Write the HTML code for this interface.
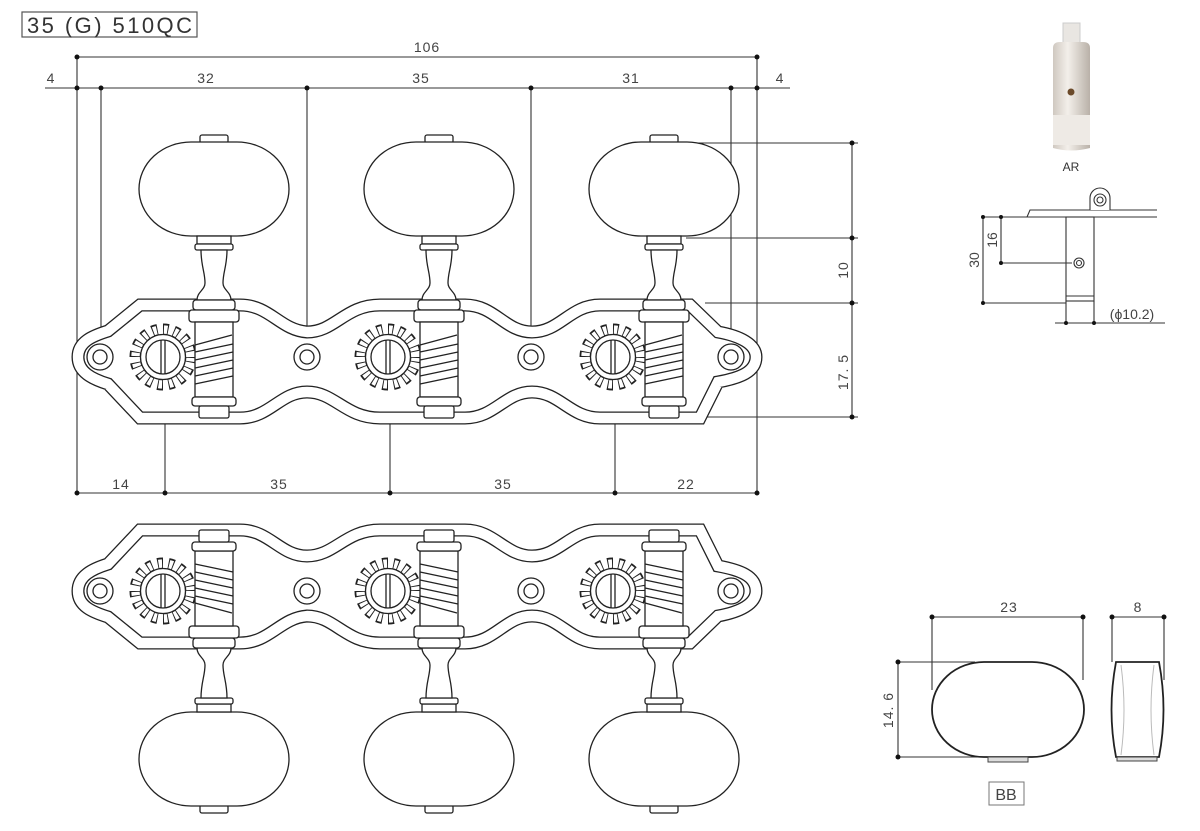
<!DOCTYPE html>
<html><head><meta charset="utf-8"><style>
html,body{margin:0;padding:0;background:#fff;}
svg{display:block;font-family:"Liberation Sans",sans-serif;}
</style></head><body>
<svg width="1200" height="831" viewBox="0 0 1200 831" xmlns="http://www.w3.org/2000/svg">
<defs>
<path id="plate" d="M78 357 C78 342 92 336 108 331 L140 305 L240 305 C270 305 280 330 307 332 C335 332 345 305 380 305 L465 305 C495 305 505 332 532 332 C560 332 570 305 600 305 L690 305 L718 332 C740 336 756 344 756 357 C756 372 740 378 718 382 L700 418 L600 418 C570 418 560 392 532 392 C505 392 495 418 465 418 L380 418 C345 418 335 392 307 392 C280 392 270 418 240 418 L140 418 L108 384 C92 379 78 372 78 357 Z"/>
<g id="tuner" fill="#fff" stroke="#222" stroke-width="1.3">
  <!-- gear -->
  <circle cx="-51" cy="357" r="28" pathLength="160" fill="none" stroke="#222" stroke-width="11" stroke-dasharray="5 5"/>
  <circle cx="-51" cy="357" r="27.5" pathLength="160" fill="none" stroke="#fff" stroke-width="8.4" stroke-dasharray="3.2 6.8" stroke-dashoffset="-0.9"/>
  <circle cx="-51" cy="357" r="22.5" fill="#fff"/>
  <circle cx="-51" cy="357" r="17"/>
  <line x1="-53" y1="340" x2="-53" y2="374"/><line x1="-49" y1="340" x2="-49" y2="374"/>
  <!-- cap & knob -->
  <rect x="-14" y="135" width="28" height="8" rx="2"/>
  <rect x="-75" y="142" width="150" height="94" rx="52" ry="47"/>
  <rect x="-17" y="236" width="34" height="8"/>
  <rect x="-19" y="244" width="38" height="6" rx="2"/>
  <path d="M-13 250 C-13 266 -9 272 -9 283 C-9 290 -17 292 -17 300 L17 300 C17 292 9 290 9 283 C9 272 13 266 13 250 Z"/>
  <rect x="-21" y="300" width="42" height="10" rx="3"/>
  <rect x="-25" y="310" width="50" height="12" rx="3"/>
  <rect x="-19" y="322" width="38" height="75"/>
  <path d="M-19 345 L18 335 M-19 352 L19 344 M-19 360 L19 352 M-19 368 L19 360 M-19 376 L19 368 M-19 384 L19 376" fill="none"/>
  <rect x="-22" y="397" width="44" height="9" rx="3"/>
  <rect x="-15" y="406" width="30" height="12" rx="2"/>
</g>
<g id="unit">
  <use href="#plate" fill="#fff" stroke="#222" stroke-width="13"/>
  <use href="#plate" fill="none" stroke="#fff" stroke-width="10.4"/>
  <g fill="#fff" stroke="#222" stroke-width="1.3">
    <circle cx="100" cy="357" r="13"/><circle cx="100" cy="357" r="7"/>
    <circle cx="307" cy="357" r="13"/><circle cx="307" cy="357" r="7"/>
    <circle cx="531" cy="357" r="13"/><circle cx="531" cy="357" r="7"/>
    <circle cx="731" cy="357" r="13"/><circle cx="731" cy="357" r="7"/>
  </g>
  <use href="#tuner" x="214"/>
  <use href="#tuner" x="439"/>
  <use href="#tuner" x="664"/>
</g>
</defs>

<!-- title -->
<rect x="22" y="12" width="175" height="25" fill="none" stroke="#555" stroke-width="1.2"/>
<text x="27" y="33" font-size="22" fill="#333" textLength="165" lengthAdjust="spacing">35 (G) 510QC</text>

<!-- top dims -->
<g stroke="#333" stroke-width="1.1" fill="none">
  <line x1="75" y1="57" x2="757" y2="57"/>
  <line x1="45" y1="88" x2="790" y2="88"/>
  <line x1="77" y1="57" x2="77" y2="493"/>
  <line x1="757" y1="57" x2="757" y2="493"/>
  <line x1="101" y1="88" x2="101" y2="350"/>
  <line x1="307" y1="88" x2="307" y2="350"/>
  <line x1="531" y1="88" x2="531" y2="350"/>
  <line x1="731" y1="88" x2="731" y2="350"/>
  <line x1="75" y1="493" x2="757" y2="493"/>
  <line x1="165" y1="395" x2="165" y2="493"/>
  <line x1="390" y1="395" x2="390" y2="493"/>
  <line x1="615" y1="395" x2="615" y2="493"/>
  <line x1="852" y1="143" x2="852" y2="417"/>
  <line x1="680" y1="143" x2="858" y2="143"/>
  <line x1="686" y1="238" x2="858" y2="238"/>
  <line x1="705" y1="303" x2="858" y2="303"/>
  <line x1="705" y1="417" x2="858" y2="417"/>
</g>
<g fill="#111">
  <circle cx="77" cy="57" r="2.5"/><circle cx="757" cy="57" r="2.5"/>
  <circle cx="77" cy="88" r="2.5"/><circle cx="101" cy="88" r="2.5"/><circle cx="307" cy="88" r="2.5"/>
  <circle cx="531" cy="88" r="2.5"/><circle cx="731" cy="88" r="2.5"/><circle cx="757" cy="88" r="2.5"/>
  <circle cx="77" cy="493" r="2.5"/><circle cx="165" cy="493" r="2.5"/><circle cx="390" cy="493" r="2.5"/>
  <circle cx="615" cy="493" r="2.5"/><circle cx="757" cy="493" r="2.5"/>
  <circle cx="852" cy="143" r="2.5"/><circle cx="852" cy="238" r="2.5"/><circle cx="852" cy="303" r="2.5"/><circle cx="852" cy="417" r="2.5"/>
</g>
<g font-size="14" fill="#444" text-anchor="middle" letter-spacing="1">
  <text x="427" y="52">106</text>
  <text x="51" y="83">4</text>
  <text x="206" y="83">32</text>
  <text x="421" y="83">35</text>
  <text x="631" y="83">31</text>
  <text x="780" y="83">4</text>
  <text x="121" y="489">14</text>
  <text x="279" y="489">35</text>
  <text x="503" y="489">35</text>
  <text x="686" y="489">22</text>
  <text transform="translate(848,270) rotate(-90)">10</text>
  <text transform="translate(848,372) rotate(-90)">17. 5</text>
</g>

<!-- top unit -->
<use href="#unit"/>
<!-- bottom unit mirrored -->
<use href="#unit" transform="translate(0,948) scale(1,-1)"/>

<!-- AR photo -->
<defs>
<linearGradient id="cyl" x1="0" x2="1">
  <stop offset="0" stop-color="#cfc8c0"/><stop offset="0.4" stop-color="#f3efea"/><stop offset="1" stop-color="#b9b1a8"/>
</linearGradient>
</defs>
<rect x="1063" y="23" width="17" height="22" fill="#e9e6e2" stroke="#ccc"/>
<path d="M1053 48 Q1053 42 1060 42 L1083 42 Q1090 42 1090 48 L1090 148 Q1071 153 1053 148 Z" fill="url(#cyl)"/>
<rect x="1053" y="115" width="37" height="30" fill="#eeeae5"/>
<circle cx="1071" cy="92" r="3.5" fill="#6b4a2a"/>
<text x="1071" y="171" font-size="12" fill="#333" text-anchor="middle">AR</text>

<!-- AR side view -->
<g stroke="#333" stroke-width="1.1" fill="#fff">
  <path d="M1027 217 L1030 210 L1157 210 M1027 217 L1157 217" fill="none"/>
  <path d="M1090 210 L1090 198 A10 10 0 0 1 1110 198 L1110 210" />
  <circle cx="1100" cy="200" r="6"/><circle cx="1100" cy="200" r="3"/>
  <rect x="1066" y="217" width="28" height="84"/>
  <line x1="1066" y1="296" x2="1094" y2="296"/>
  <circle cx="1079" cy="263" r="5"/><circle cx="1079" cy="263" r="2.5"/>
  <line x1="983" y1="217" x2="1027" y2="217"/>
  <line x1="983" y1="303" x2="1066" y2="303"/>
  <line x1="983" y1="217" x2="983" y2="303"/>
  <line x1="1001" y1="217" x2="1001" y2="263"/>
  <line x1="1001" y1="263" x2="1072" y2="263"/>
  <line x1="1055" y1="323" x2="1165" y2="323"/>
  <line x1="1066" y1="301" x2="1066" y2="323"/>
  <line x1="1094" y1="301" x2="1094" y2="323"/>
</g>
<g fill="#111">
  <circle cx="983" cy="217" r="2"/><circle cx="983" cy="303" r="2"/>
  <circle cx="1001" cy="217" r="2"/><circle cx="1001" cy="263" r="2"/>
  <circle cx="1066" cy="323" r="2"/><circle cx="1094" cy="323" r="2"/>
</g>
<g font-size="14" fill="#444" text-anchor="middle">
  <text transform="translate(979,260) rotate(-90)">30</text>
  <text transform="translate(997,240) rotate(-90)">16</text>
  <text x="1132" y="319">(ϕ10.2)</text>
</g>

<!-- BB -->
<g stroke="#333" stroke-width="1.1" fill="none">
  <line x1="932" y1="617" x2="1083" y2="617"/>
  <line x1="932" y1="617" x2="932" y2="690"/>
  <line x1="1083" y1="617" x2="1083" y2="680"/>
  <line x1="1112" y1="617" x2="1164" y2="617"/>
  <line x1="1112" y1="617" x2="1112" y2="662"/>
  <line x1="1164" y1="617" x2="1164" y2="680"/>
  <line x1="898" y1="662" x2="975" y2="662"/>
  <line x1="898" y1="757" x2="980" y2="757"/>
  <line x1="898" y1="662" x2="898" y2="757"/>
</g>
<rect x="932" y="662" width="152" height="95" rx="52" ry="47.5" fill="#fff" stroke="#222" stroke-width="1.8"/>
<rect x="988" y="757" width="40" height="5" fill="#ddd" stroke="#444" stroke-width="1"/>
<path d="M1116 662 L1159 662 Q1168 710 1159 757 L1116 757 Q1107 710 1116 662 Z" fill="#fff" stroke="#222" stroke-width="1.8"/>
<path d="M1121 665 Q1127 710 1121 755 M1154 665 Q1148 710 1154 755" fill="none" stroke="#bbb" stroke-width="1"/>
<rect x="1117" y="757" width="40" height="4" fill="#ddd" stroke="#444" stroke-width="1"/>
<g fill="#111">
  <circle cx="932" cy="617" r="2.5"/><circle cx="1083" cy="617" r="2.5"/>
  <circle cx="1112" cy="617" r="2.5"/><circle cx="1164" cy="617" r="2.5"/>
  <circle cx="898" cy="662" r="2.5"/><circle cx="898" cy="757" r="2.5"/>
</g>
<g font-size="14" fill="#444" text-anchor="middle" letter-spacing="1">
  <text x="1009" y="612">23</text>
  <text x="1138" y="612">8</text>
  <text transform="translate(893,710) rotate(-90)">14. 6</text>
</g>
<rect x="989" y="782" width="35" height="23" fill="none" stroke="#777" stroke-width="1"/>
<text x="1006" y="800" font-size="16" fill="#444" text-anchor="middle">BB</text>
</svg>
</body></html>
